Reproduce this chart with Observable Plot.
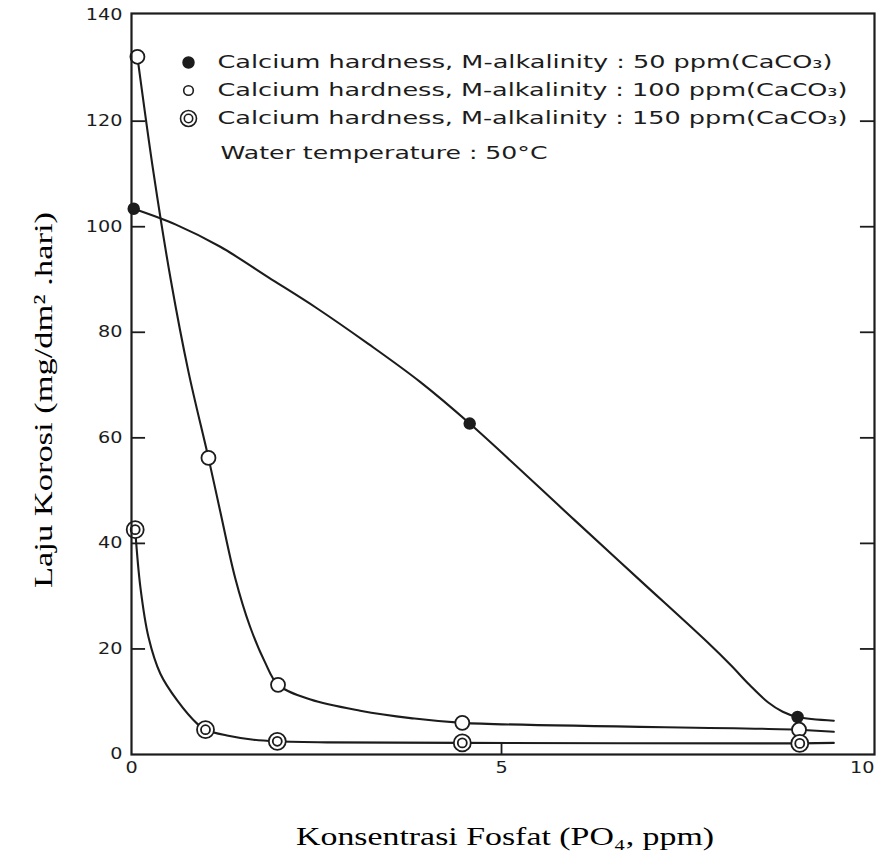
<!DOCTYPE html>
<html><head><meta charset="utf-8">
<script src="https://cdn.jsdelivr.net/npm/d3@7"></script>
<script src="https://cdn.jsdelivr.net/npm/@observablehq/plot@0.6"></script>
<style>body{margin:0;background:#fff} #chart svg{display:block}</style>
</head><body><div id="chart"></div>
<script>
// ---- data ----
const legendLabels = [
  "Calcium hardness, M-alkalinity : 50 ppm(CaCO\u2083)",
  "Calcium hardness, M-alkalinity : 100 ppm(CaCO\u2083)",
  "Calcium hardness, M-alkalinity : 150 ppm(CaCO\u2083)"
];
const noteLabel = "Water temperature : 50\u00b0C";
const xTitle = "Konsentrasi Fosfat (PO\u2084, ppm)";
const yTitle = "Laju Korosi (mg/dm\u00b2 .hari)";
const xTicksCentered = [0, 5];
const xTicksEnd = [10];
const yTicks = [0, 20, 40, 60, 80, 100, 120, 140];
const innerLeftTicks = [20, 40, 60, 80, 100, 120];
const innerRightTicks = [20, 40, 60, 80, 100, 120];
const innerBottomTicks = [5];

// measured points (markers)
const x50 = [0.03, 4.57, 9.0];
const y50 = [103.4, 62.7, 7.1];
const x100 = [0.08, 1.04, 1.98, 4.47, 9.02];
const y100 = [132.2, 56.2, 13.2, 6.0, 4.7];
const x150 = [0.05, 1.0, 1.97, 4.47, 9.03];
const y150 = [42.6, 4.7, 2.5, 2.2, 2.1];

// hand-drawn curves
const curve50X = [0.03, 0.6, 1.2, 1.85, 2.5, 3.2, 3.9, 4.57, 5.98, 6.88, 7.78, 8.1, 8.35, 8.6, 8.8, 9.0, 9.49];
const curve50Y = [103.4, 100.4, 96.2, 90.4, 84.6, 77.8, 70.6, 62.7, 44.5, 32.9, 21.3, 16.9, 13.2, 9.9, 8.1, 7.1, 6.4];
const curve100X = [0.08, 0.3, 0.53, 0.77, 1.04, 1.2, 1.4, 1.6, 1.8, 1.98, 2.42, 3.09, 3.77, 4.47, 9.02, 9.49];
const curve100Y = [132.2, 110.0, 90.0, 72.5, 56.2, 46.0, 33.5, 24.3, 17.6, 13.2, 10.4, 8.3, 6.9, 6.0, 4.7, 4.3];
const curve150X = [0.05, 0.12, 0.23, 0.39, 0.62, 0.89, 1.0, 1.29, 1.65, 1.97, 2.64, 4.47, 9.03, 9.49];
const curve150Y = [42.6, 31.7, 22.2, 15.3, 10.2, 5.8, 4.7, 3.6, 2.8, 2.5, 2.3, 2.2, 2.1, 2.2];

// ---- tables ----
const rows = (xs, ys) => xs.map((x, i) => ({x, y: ys[i]}));
const p50 = rows(x50, y50), p100 = rows(x100, y100), p150 = rows(x150, y150);
const c50 = rows(curve50X, curve50Y), c100 = rows(curve100X, curve100Y), c150 = rows(curve150X, curve150Y);

const ink = "#1c1c1c";
const lineOpts = {x: "x", y: "y", curve: "catmull-rom", stroke: ink, strokeWidth: 2.1};
const legText = {text: d => d, frameAnchor: "top-left", textAnchor: "start", lineAnchor: "middle", fontSize: 18, fill: ink};

const plot = Plot.plot({
  width: 880, height: 862,
  marginLeft: 131, marginRight: 6, marginTop: 13, marginBottom: 108,
  x: {domain: [0, 10.04]},
  y: {domain: [0, 140.4]},
  style: {fontFamily: "DejaVu Sans", fontSize: "15px", background: "#fff", color: ink},
  marks: [
    Plot.ruleY(innerLeftTicks, {x1: 0, x2: 0.19, stroke: ink, strokeWidth: 1.8}),
    Plot.ruleY(innerRightTicks, {x1: 9.85, x2: 10.04, stroke: ink, strokeWidth: 1.8}),
    Plot.ruleX(innerBottomTicks, {y1: 0, y2: 2, stroke: ink, strokeWidth: 1.8}),
    Plot.axisY({ticks: yTicks, tickSize: 0, tickPadding: 9, label: null, fontSize: 15, fill: ink}),
    Plot.axisX({ticks: xTicksCentered, tickSize: 0, tickPadding: 8, label: null, fontSize: 15, fill: ink}),
    Plot.axisX({ticks: xTicksEnd, tickSize: 0, tickPadding: 8, label: null, fontSize: 15, fill: ink, textAnchor: "end", dx: 3}),
    Plot.line(c50, lineOpts),
    Plot.line(c100, lineOpts),
    Plot.line(c150, lineOpts),
    Plot.dot(p50, {x: "x", y: "y", r: 5.5, fill: ink, stroke: ink}),
    Plot.dot(p100, {x: "x", y: "y", r: 7, fill: "#fff", stroke: ink, strokeWidth: 1.8}),
    Plot.dot(p150, {x: "x", y: "y", r: 8.5, fill: "#fff", stroke: ink, strokeWidth: 1.8}),
    Plot.dot(p150, {x: "x", y: "y", r: 4.5, fill: "#fff", stroke: ink, strokeWidth: 1.8}),
    Plot.frame({stroke: ink, strokeWidth: 2.2}),
    // legend
    Plot.dot([legendLabels[0]], {frameAnchor: "top-left", dx: 57, dy: 49, r: 5.5, fill: ink, stroke: ink}),
    Plot.dot([legendLabels[1]], {frameAnchor: "top-left", dx: 57, dy: 77, r: 4.8, fill: "#fff", stroke: ink, strokeWidth: 1.6}),
    Plot.dot([legendLabels[2]], {frameAnchor: "top-left", dx: 57, dy: 105, r: 8, fill: "#fff", stroke: ink, strokeWidth: 1.6}),
    Plot.dot([legendLabels[2]], {frameAnchor: "top-left", dx: 57, dy: 105, r: 4.2, fill: "#fff", stroke: ink, strokeWidth: 1.6}),
    Plot.text([legendLabels[0]], {...legText, dx: 86, dy: 49}),
    Plot.text([legendLabels[1]], {...legText, dx: 86, dy: 77}),
    Plot.text([legendLabels[2]], {...legText, dx: 86, dy: 105}),
    Plot.text([noteLabel], {...legText, dx: 89, dy: 140}),
    // axis titles
    Plot.text([xTitle], {text: d => d, frameAnchor: "bottom", lineAnchor: "middle", textAnchor: "middle", dx: 2, dy: 82, fontFamily: "Liberation Serif", fontSize: 26, fill: "#000"}),
    Plot.text([yTitle], {text: d => d, frameAnchor: "left", lineAnchor: "middle", textAnchor: "middle", dx: -88, dy: 16, rotate: -90, fontFamily: "Liberation Serif", fontSize: 26, fill: "#000"})
  ]
});

document.getElementById("chart").append(plot);

// the scanned figure is stretched horizontally: widen the texts to the measured lengths
const targets = new Map([
  [legendLabels[0], 615], [legendLabels[1], 630], [legendLabels[2], 630],
  [noteLabel, 327], [xTitle, 418], [yTitle, 376]
]);
plot.querySelectorAll("text").forEach(t => {
  const s = t.textContent;
  let len = targets.get(s);
  if (len == null && /^\d+$/.test(s)) len = t.getComputedTextLength() * 1.28;
  if (len != null) {
    t.setAttribute("textLength", len);
    t.setAttribute("lengthAdjust", "spacingAndGlyphs");
  }
});
</script>
</body></html>
